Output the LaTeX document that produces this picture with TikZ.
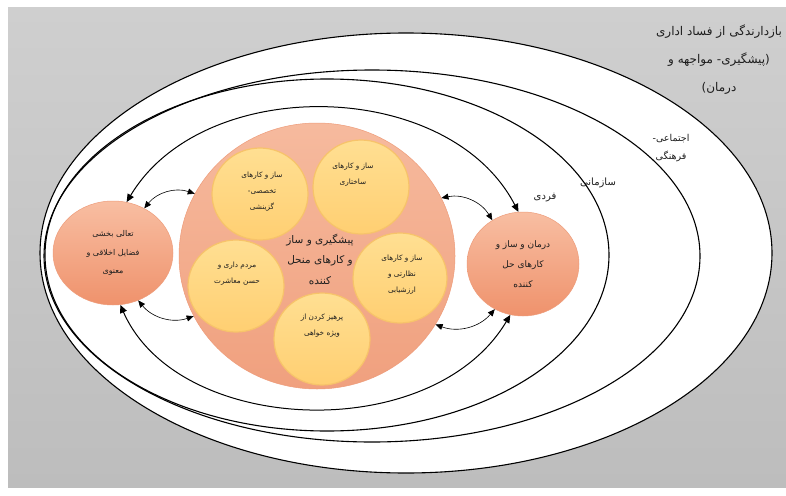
\documentclass[tikz,border=0pt]{standalone}
\usepackage{fontspec}
\newfontfamily\arabicfont[Script=Arabic]{DejaVu Sans}
\TeXXeTstate=1
\usetikzlibrary{arrows.meta,shapes.geometric}
\definecolor{graytop}{HTML}{CFCFCF}
\definecolor{graybot}{HTML}{BDBDBD}
\definecolor{salmtop}{HTML}{F6BA9E}
\definecolor{salmbot}{HTML}{F0A07E}
\definecolor{salmedge}{HTML}{EE9C7A}
\definecolor{cirtop}{HTML}{F8BEA2}
\definecolor{cirbot}{HTML}{EF926C}
\definecolor{yeltop}{HTML}{FFDF92}
\definecolor{yelbot}{HTML}{FFCF72}
\definecolor{yeledge}{HTML}{F7C36A}
\definecolor{txt}{HTML}{1E1E1E}
\newcommand\artx[1]{{\beginR #1\endR}}
\tikzset{
  lvl/.style={draw=black, line width=1.1pt},
  bigarr/.style={draw=black, line width=1pt, {Triangle[length=8pt,width=7pt]}-{Triangle[length=8pt,width=7pt]}},
  smallarr/.style={draw=black, line width=0.6pt, {Triangle[length=7pt,width=6pt]}-{Triangle[length=7pt,width=6pt]}},
  salmcirc/.style={ellipse, inner sep=0pt, draw=salmedge, line width=0.5pt, top color=cirtop, bottom color=cirbot, text=txt, align=center},
  yelcirc/.style={ellipse, inner sep=0pt, draw=yeledge, line width=1.2pt, top color=yeltop, bottom color=yelbot, text=txt, align=center},
  lbl/.style={inner sep=0pt, align=center, text=txt}
}
\begin{document}
\begin{tikzpicture}[x=1pt,y=-1pt]
\useasboundingbox (0,0) rectangle (786,495);
\fill[white] (0,0) rectangle (786,495);
\shade[top color=graytop, bottom color=graybot] (8,8) rectangle (786,487);
% nested levels
\draw[lvl, fill=white] (406,253) ellipse [x radius=366, y radius=220];
\draw[lvl] (372,256) ellipse [x radius=328, y radius=186];
\draw[lvl] (327,255) ellipse [x radius=282, y radius=176];
% big central ellipse
\node[ellipse, inner sep=0pt, draw=salmedge, line width=0.5pt, top color=salmtop, bottom color=salmbot,
      minimum width=276pt, minimum height=266pt] (E) at (317,256) {};
% side circles
\node[salmcirc, minimum width=120pt, minimum height=104pt,
      font=\arabicfont\fontsize{8}{18.5}\selectfont] (L) at (113,253)
  {\artx{تعالی بخشی}\\ \artx{فضایل اخلاقی و}\\ \artx{معنوی}};
\node[salmcirc, minimum width=112pt, minimum height=104pt,
      font=\arabicfont\fontsize{9}{20}\selectfont] (R) at (523,264)
  {\artx{درمان و ساز و}\\ \artx{کارهای حل}\\ \artx{کننده}};
% yellow circles
\node[yelcirc, minimum width=96pt, minimum height=92pt] (Y1) at (260,194) {};
\node[yelcirc, minimum width=96pt, minimum height=94pt] (Y2) at (361,187) {};
\node[yelcirc, minimum width=96pt, minimum height=92pt] (Y3) at (236,286) {};
\node[yelcirc, minimum width=94pt, minimum height=90pt] (Y4) at (400,278) {};
\node[yelcirc, minimum width=96pt, minimum height=92pt] (Y5) at (322,339) {};
\begin{scope}[every node/.style={lbl, font=\arabicfont\fontsize{7.3}{16}\selectfont}]
\node (t1) at (262,192) {\artx{ساز و کارهای}\\ \artx{تخصصی-}\\ \artx{گزینشی}};
\node (t2) at (353,175) {\artx{ساز و کارهای}\\ \artx{ساختاری}};
\node (t3) at (237,274) {\artx{مردم داری و}\\ \artx{حسن معاشرت}};
\node (t4) at (402,275) {\artx{ساز و کارهای}\\ \artx{نظارتی و}\\ \artx{ارزشیابی}};
\node (t5) at (322,326) {\artx{پرهیز کردن از}\\ \artx{ویژه خواهی}};
\end{scope}
\node[lbl, font=\arabicfont\fontsize{10.5}{20.5}\selectfont] (tc) at (320,259)
  {\artx{پیشگیری و ساز}\\ \artx{و کارهای منحل}\\ \artx{کننده}};
% level labels
\node[lbl, font=\arabicfont\fontsize{12}{28}\selectfont] (title) at (719,60)
  {\artx{بازدارندگی از فساد اداری}\\ \artx{(پیشگیری- مواجهه و}\\ \artx{درمان)}};
\node[lbl, font=\arabicfont\fontsize{9.5}{18}\selectfont] (soc) at (671,148)
  {\artx{اجتماعی-}\\ \artx{فرهنگی}};
\node[lbl, font=\arabicfont\fontsize{10}{18}\selectfont] (org) at (598,183) {\artx{سازمانی}};
\node[lbl, font=\arabicfont\fontsize{10}{18}\selectfont] (ind) at (545,198) {\artx{فردی}};
% big arcs
\draw[bigarr] (L.75) .. controls (204,73) and (449,78) .. (R.95);
\draw[bigarr] (L.278) .. controls (178,436) and (432,446) .. (R.256);
% small arrows
\draw[smallarr] (L.55) to[bend left=35] (E.153);
\draw[smallarr] (L.-62) to[bend right=35] (E.206);
\draw[smallarr] (E.25) to[bend left=35] (R.125);
\draw[smallarr] (E.-30) to[bend right=35] (R.238);
\end{tikzpicture}
\end{document}
